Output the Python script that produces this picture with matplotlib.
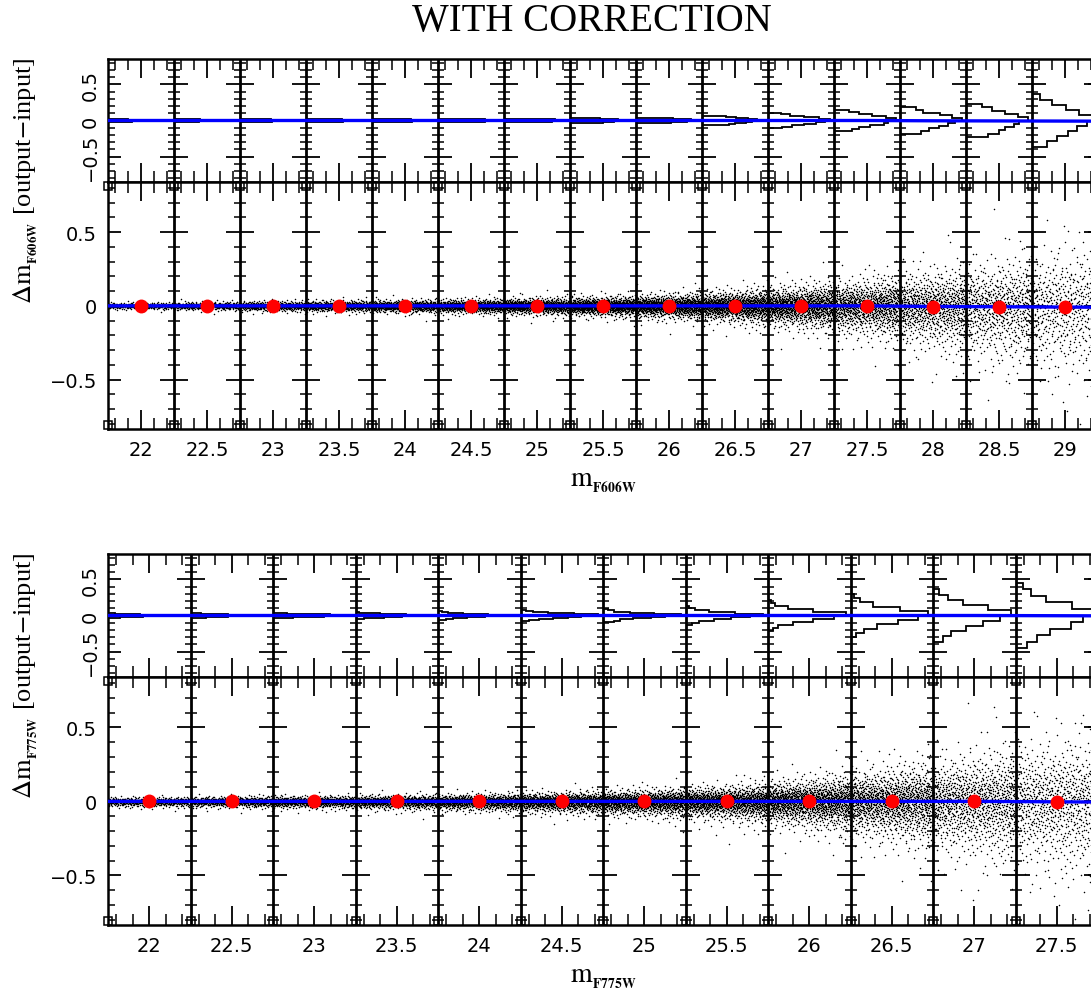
import numpy as np
import matplotlib
matplotlib.use("Agg")
import matplotlib.pyplot as plt
from matplotlib.ticker import MultipleLocator, FixedLocator

plt.rcParams['font.family'] = ['DejaVu Sans']
plt.rcParams['mathtext.fontset'] = 'stix'

# ---- data ----
# F606W panel: bin centres (red dots), median offsets, per-bin spread, stars per bin
f606_centres = [22.0, 22.5, 23.0, 23.5, 24.0, 24.5, 25.0, 25.5, 26.0, 26.5,
                27.0, 27.5, 28.0, 28.5, 29.0, 29.5]
f606_median = [0.0, 0.0, 0.0, 0.0, 0.0, 0.0, 0.0, 0.0, 0.0, 0.0,
               0.0, 0.0, -0.005, -0.008, -0.01, -0.012]
f606_spread = [0.006, 0.007, 0.008, 0.009, 0.010, 0.011, 0.013, 0.015, 0.019, 0.025,
               0.034, 0.046, 0.063, 0.082, 0.105, 0.125]
f606_lowside = [1.0, 1.0, 1.1, 1.1, 1.1, 1.1, 1.1, 1.1, 1.1, 1.1,
                1.1, 1.15, 1.2, 1.25, 1.25, 1.25]
f606_count = [350, 450, 550, 650, 750, 850, 950, 1050, 1100, 1150,
              1100, 950, 800, 650, 500, 380]
# half-range of each strip histogram (bins starting at 21.75, 22.25, ...)
f606_hist_extent = [0.02, 0.02, 0.02, 0.02, 0.02, 0.025, 0.025, 0.03, 0.04, 0.06,
                    0.11, 0.14, 0.18, 0.23, 0.36, 0.40]
f606_blue_x = [21.75, 27.5, 28.0, 29.5]
f606_blue_y = [0.0, 0.0, -0.004, -0.01]

# F775W panel
f775_centres = [22.0, 22.5, 23.0, 23.5, 24.0, 24.5, 25.0, 25.5, 26.0, 26.5,
                27.0, 27.5, 28.0]
f775_median = [0.0, 0.0, 0.0, 0.0, 0.0, 0.0, 0.0, 0.0, 0.0, 0.0,
               0.0, -0.005, -0.008]
f775_spread = [0.007, 0.008, 0.009, 0.010, 0.012, 0.015, 0.019, 0.025, 0.038, 0.058,
               0.082, 0.108, 0.135]
f775_lowside = [1.3, 1.3, 1.3, 1.3, 1.3, 1.3, 1.3, 1.25, 1.2, 1.2,
                1.2, 1.2, 1.2]
f775_count = [600, 700, 800, 900, 1000, 1100, 1200, 1300, 1350, 1250,
              1000, 800, 600]
f775_hist_extent = [0.03, 0.03, 0.04, 0.05, 0.06, 0.07, 0.09, 0.13, 0.21, 0.30,
                    0.36, 0.45, 0.50]
f775_blue_x = [21.75, 27.0, 28.0]
f775_blue_y = [0.0, 0.0, -0.006]

W, H = 1091, 995


def halton(start, n, base):
    # deterministic low-discrepancy sequence
    i = np.arange(start + 1, start + n + 1)
    out = np.zeros(n)
    f = 1.0
    while np.any(i > 0):
        f /= base
        out += f * (i % base)
        i = i // base
    return out


def build_cloud(centres, median, spread, lowside, count):
    xs, ys = [], []
    start = 0
    for c, m, s, lf, n in zip(centres, median, spread, lowside, count):
        u = halton(start, n, 2)
        v = halton(start, n, 3)
        start += n
        x = c - 0.25 + 0.5 * u
        p = np.clip(v, 1e-4, 1 - 1e-4)
        t = np.log(p / (1 - p))
        sx = np.interp(x, centres, spread)
        y = m + sx * t
        y = np.where(t < 0, m + sx * lf * t, y)
        xs.append(x)
        ys.append(y)
    return np.concatenate(xs), np.concatenate(ys)


def px_rect(x0, y0, x1, y1):
    return [x0 / W, 1 - y1 / H, (x1 - x0) / W, (y1 - y0) / H]


def line_ticks(ax, bounds, ylo, yhi):
    majors = [-0.5, 0.0, 0.5]
    minors = [v for v in np.round(np.arange(ylo, yhi, 0.1), 2)
              if min(abs(v - mj) for mj in majors) > 0.01]
    for b in bounds:
        ax.plot([b] * len(majors), majors, ls='none', marker='_', ms=20,
                mew=1.3, color='k', zorder=4)
        ax.plot([b] * len(minors), minors, ls='none', marker='_', ms=9,
                mew=1.1, color='k', zorder=4)


def minus_fmt(v, p):
    return f'{v:g}'.replace('-', '\u2212')


def style_axes(ax):
    for sp in ax.spines.values():
        sp.set_linewidth(1.8)
    ax.xaxis.set_major_locator(MultipleLocator(0.5))
    ax.xaxis.set_minor_locator(MultipleLocator(0.1))
    ax.yaxis.set_major_locator(FixedLocator([-0.5, 0, 0.5]))
    ax.yaxis.set_minor_locator(MultipleLocator(0.1))
    ax.tick_params(which='both', direction='in', top=True, right=True,
                   labelsize=14)
    ax.tick_params(axis='x', which='major', length=14, width=1.3)
    ax.tick_params(axis='x', which='minor', length=8, width=1.1)
    ax.tick_params(axis='y', which='major', length=9, width=1.3)
    ax.tick_params(axis='y', which='minor', length=5, width=1.1)


def panel(fig, top_px, xmax, centres, median, spread, lowside, count,
          hist_extent, blue_x, blue_y, band):
    y_strip0, y_strip1, y_main1 = top_px
    strip = fig.add_axes(px_rect(108, y_strip0, 1100, y_strip1))
    main = fig.add_axes(px_rect(108, y_strip1, 1100, y_main1))
    xlim = (21.75, xmax)
    bounds = np.arange(21.75, xmax, 0.5)
    x, y = build_cloud(centres, median, spread, lowside, count)

    # scatter panel
    main.plot(x, y, 'o', ms=1.1, mew=0, color='k', zorder=1)
    for b in bounds[1:]:
        main.axvline(b, color='k', lw=2.0, zorder=3)
    line_ticks(main, bounds[1:], -0.8, 0.85)
    for yy in (0.015, 0.985):
        main.plot(bounds, [yy] * len(bounds), ls='none', marker='s', ms=5.5,
                  mfc='none', mec='k', mew=1.1,
                  transform=main.get_xaxis_transform(), clip_on=False, zorder=4)
    main.plot(centres, median, color='red', lw=1.3, zorder=5)
    main.plot(blue_x, blue_y, color='blue', lw=2.4, zorder=6)
    main.plot(centres, median, 'o', color='red', ms=10, mew=0, zorder=7)
    main.set_xlim(*xlim)
    main.set_ylim(-0.835, 0.84)
    style_axes(main)
    main.tick_params(axis='y', pad=8)
    main.tick_params(axis='x', pad=8)
    main.xaxis.set_major_formatter(plt.FuncFormatter(lambda v, p: f'{v:g}'))
    main.yaxis.set_major_formatter(plt.FuncFormatter(minus_fmt))

    # histogram strip: one sideways histogram per magnitude bin
    for b, ext in zip(bounds, hist_extent):
        sel = (x >= b) & (x < b + 0.5)
        if not np.any(sel):
            continue
        edges = np.linspace(-ext, ext, 11)
        h, _ = np.histogram(y[sel], bins=edges)
        if h.max() == 0:
            continue
        strip.stairs(b + 0.47 * h / h.max(), edges, baseline=b,
                     orientation='horizontal', color='k', lw=1.3, zorder=2)
    for b in bounds[1:]:
        strip.axvline(b, color='k', lw=2.0, zorder=3)
    line_ticks(strip, bounds[1:], -0.8, 0.85)
    strip.plot(blue_x, blue_y, color='blue', lw=2.4, zorder=6)
    strip.set_xlim(*xlim)
    strip.set_ylim(-0.85, 0.85)
    style_axes(strip)
    strip.tick_params(axis='x', labelbottom=False)
    strip.tick_params(axis='y', labelrotation=90, pad=6)
    strip.yaxis.set_major_formatter(plt.FuncFormatter(minus_fmt))
    for lab in strip.get_yticklabels():
        lab.set_verticalalignment('center')

    fig.text(603 / W, 1 - (y_main1 + 57) / H,
             r'$\mathrm{m}_{{}_{\mathbf{' + band + '}}}$',
             ha='center', va='baseline', fontsize=20)
    fig.text(26 / W, 1 - (y_strip1 - 2) / H,
             r'$\Delta\mathrm{m}_{{}_{\mathbf{' + band + r'}}}$ [output$-$input]',
             rotation=90, ha='center', va='center', fontsize=19,
             family=['Liberation Serif', 'DejaVu Serif'])


fig = plt.figure(figsize=(W / 100, H / 100), dpi=100)
fig.text(592 / W, 1 - 22 / H, 'WITH CORRECTION', ha='center', va='center',
         fontsize=28, family=['Liberation Serif', 'DejaVu Serif'])

panel(fig, (60, 183, 430), 21.75 + 992 / 132, f606_centres, f606_median,
      f606_spread, f606_lowside, f606_count, f606_hist_extent,
      f606_blue_x, f606_blue_y, 'F606W')
panel(fig, (555, 678, 926), 21.75 + 992 / 165, f775_centres, f775_median,
      f775_spread, f775_lowside, f775_count, f775_hist_extent,
      f775_blue_x, f775_blue_y, 'F775W')

fig.savefig('out.png', dpi=100)
